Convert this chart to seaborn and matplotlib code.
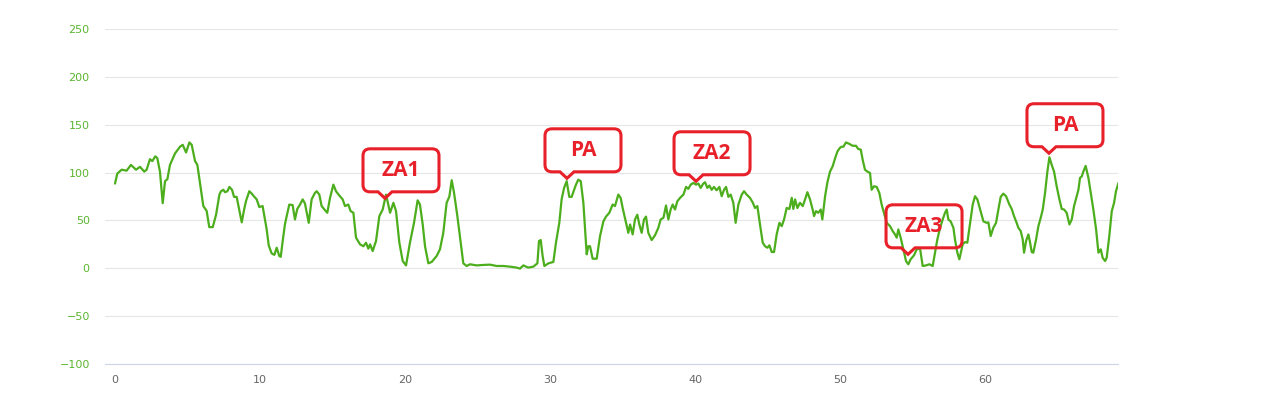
import numpy as np
import pandas as pd
import seaborn as sns
import matplotlib
matplotlib.use("Agg")
import matplotlib.pyplot as plt
import matplotlib.transforms as mtransforms
from matplotlib.path import Path
from matplotlib.patches import PathPatch

# series
x_vals = [
    0, 0.16, 0.46, 0.8, 1.1, 1.45, 1.72, 2.02, 2.18, 2.41, 2.57, 2.78, 2.92, 3.1, 3.29, 3.45, 3.61, 3.79,
    4.14, 4.48, 4.67, 4.9, 5.13, 5.29, 5.52, 5.68, 5.86, 6.09, 6.32, 6.5, 6.74, 6.97, 7.2, 7.31, 7.47,
    7.59, 7.75, 7.89, 8.07, 8.21, 8.39, 8.57, 8.74, 8.9, 9.03, 9.26, 9.43, 9.59, 9.77, 9.95, 10.18,
    10.34, 10.46, 10.6, 10.8, 10.99, 11.15, 11.33, 11.43, 11.56, 11.72, 11.84, 12.02, 12.25, 12.41,
    12.57, 12.76, 12.94, 13.1, 13.36, 13.56, 13.79, 13.91, 14.09, 14.25, 14.48, 14.64, 14.83, 15.06,
    15.24, 15.47, 15.7, 15.86, 16.09, 16.25, 16.44, 16.62, 16.9, 17.13, 17.31, 17.47, 17.59, 17.77,
    18.0, 18.23, 18.46, 18.69, 18.97, 19.2, 19.38, 19.61, 19.84, 20.07, 20.34, 20.62, 20.87, 21.03,
    21.22, 21.38, 21.49, 21.61, 21.84, 22.18, 22.41, 22.64, 22.87, 23.06, 23.22, 23.38, 23.61, 23.84,
    24.02, 24.25, 24.48, 24.94, 25.4, 25.86, 26.32, 26.78, 27.24, 27.7, 27.93, 28.16, 28.5, 28.85,
    29.13, 29.24, 29.36, 29.49, 29.61, 29.89, 30.23, 30.41, 30.64, 30.8, 30.97, 31.15, 31.33, 31.49,
    31.66, 31.79, 31.95, 32.12, 32.3, 32.53, 32.64, 32.76, 32.94, 33.22, 33.45, 33.68, 33.86, 34.09,
    34.32, 34.48, 34.71, 34.87, 35.01, 35.24, 35.4, 35.52, 35.7, 35.86, 36.02, 36.16, 36.32, 36.48,
    36.62, 36.78, 37.01, 37.24, 37.47, 37.63, 37.82, 38.0, 38.16, 38.32, 38.46, 38.62, 38.78, 38.97,
    39.2, 39.38, 39.54, 39.7, 39.89, 40.07, 40.23, 40.39, 40.57, 40.69, 40.85, 40.99, 41.15, 41.31,
    41.49, 41.68, 41.84, 42.0, 42.14, 42.3, 42.46, 42.64, 42.8, 42.99, 43.22, 43.38, 43.56, 43.79,
    43.97, 44.14, 44.3, 44.48, 44.67, 44.83, 44.99, 45.13, 45.29, 45.45, 45.63, 45.82, 45.98, 46.14,
    46.32, 46.51, 46.67, 46.78, 46.9, 47.06, 47.24, 47.43, 47.59, 47.75, 47.93, 48.11, 48.21, 48.34,
    48.5, 48.67, 48.78, 48.97, 49.13, 49.31, 49.49, 49.66, 49.82, 49.98, 50.1, 50.23, 50.41, 50.64,
    50.87, 51.1, 51.26, 51.43, 51.56, 51.72, 51.89, 52.07, 52.18, 52.34, 52.53, 52.71, 52.87, 53.03,
    53.22, 53.45, 53.63, 53.79, 53.91, 54.02, 54.18, 54.37, 54.55, 54.71, 54.87, 55.1, 55.29, 55.52,
    55.7, 55.93, 56.16, 56.39, 56.55, 56.71, 56.9, 57.08, 57.24, 57.36, 57.47, 57.63, 57.82, 57.93,
    58.09, 58.23, 58.46, 58.62, 58.78, 58.97, 59.15, 59.31, 59.47, 59.66, 59.89, 60.11, 60.23, 60.39,
    60.57, 60.76, 60.92, 61.08, 61.26, 61.45, 61.68, 61.84, 62.0, 62.18, 62.3, 62.46, 62.6, 62.69,
    62.83, 62.99, 63.1, 63.22, 63.33, 63.52, 63.68, 63.84, 63.98, 64.14, 64.3, 64.44, 64.6, 64.76,
    64.94, 65.13, 65.29, 65.45, 65.63, 65.82, 65.98, 66.14, 66.32, 66.44, 66.55, 66.67, 66.78, 66.94,
    67.13, 67.29, 67.47, 67.66, 67.82, 67.98, 68.11, 68.28, 68.39, 68.57, 68.74, 68.9, 69.03, 69.2,
]
y_vals = [
    88.5, 99, 103, 102, 108, 103, 106, 101, 103, 114, 112, 117, 115, 101, 68, 91, 93, 108,
    120, 127, 129, 121, 131.5, 129, 112, 108, 89, 65, 60, 43, 43, 56, 77, 80.5, 82,
    79.5, 80.5, 85, 82, 74.6, 74.6, 61, 48, 61, 70, 80.5, 78, 75, 72, 64, 65,
    51, 40.6, 24, 15.6, 14, 21.5, 12.8, 12, 28, 46, 54.5, 66.6, 66, 51,
    62, 66.6, 72, 67.7, 47.5, 72, 78.8, 80.5, 77, 65, 60.7, 58, 73.6, 87.4,
    80.5, 76, 72, 65, 66.6, 59.7, 58, 32, 25, 23, 26.7, 20.5, 25, 18,
    28.5, 54.5, 61.4, 77, 58, 68.4, 59.7, 26.7, 7.6, 3, 26.7, 47.5, 71, 66.6,
    45.8, 23, 14.6, 5.2, 6.6, 12.8, 19.8, 37, 68.4, 75, 92, 79, 54.5, 26.7,
    5.2, 2.4, 4.2, 3, 3.5, 3.8, 2.4, 2.4, 1.7, 0.7, -0.3, 3, 0.7, 1.7,
    5.2, 28.5, 29.5, 12.8, 2.4, 5.2, 6.6, 26.7, 47.5, 72, 84, 91, 74.6, 74.6,
    82, 87.4, 92.6, 91, 68.4, 14.6, 23, 23, 10, 10, 33.7, 49, 54, 58,
    66.6, 65, 77, 73.6, 63, 47.5, 37, 45.8, 35.4, 51, 56, 45.8, 37, 51,
    54, 37, 29.5, 34.4, 42.3, 51, 52.7, 65.6, 51, 61.4, 66.6, 61.4, 70, 73.6,
    77, 85, 83, 87.4, 89.2, 87.4, 88.5, 84, 88.5, 89.9, 84, 86.4, 82, 85,
    81.5, 85, 75.3, 82, 85, 74.6, 77, 68.4, 47.5, 66.6, 77, 80.5, 77, 73.6,
    69, 63, 65, 45.8, 26.7, 23, 21.5, 24, 17, 17, 35.4, 47.5, 44, 51,
    63, 62, 73.6, 62, 72, 63, 68.4, 65, 72, 79.5, 72, 61.4, 54.5, 59.7,
    58, 61.4, 51, 75.3, 89.9, 101, 106.5, 115, 122, 125.6, 127, 127, 131.5, 130,
    128, 128, 124.6, 124, 113.5, 103, 101, 99.6, 82, 85.7, 85, 78.8, 66.6, 58,
    47.5, 44, 38.9, 35.4, 32, 40.6, 32, 19.8, 7.6, 4.2, 9.4, 13.5, 19.8, 20.5,
    2.4, 3, 4.2, 2.4, 16.3, 30, 42.3, 51, 58, 61.4, 51, 49, 42.3, 30,
    16.3, 9.4, 25, 27.4, 26.7, 47.5, 66.6, 75.3, 72, 61.4, 49, 47.5, 48, 33.7,
    42.3, 47.5, 61.4, 74.6, 78, 75.3, 66.6, 62, 54.5, 47.5, 42.3, 38.9, 30, 16.3,
    28.5, 35.4, 27.4, 17, 16.3, 30, 44, 52.7, 61.4, 78.8, 101, 116, 108, 101,
    85.7, 72, 62, 61.4, 58, 45.8, 51, 65, 75.3, 82, 94.4, 96, 101, 107,
    94.4, 78.8, 61.4, 40.6, 16.3, 19.8, 11, 7.6, 11, 33.7, 59.7, 68.4, 80.5, 89.2,
]

# callout labels and where their tips point
label_texts = ["ZA1", "PA", "ZA2", "ZA3", "PA"]
label_x = [18.62, 31.17, 40.07, 54.69, 64.41]
label_y = [73.1, 94.0, 90.9, 14.6, 120.2]

y_ticks = [-100, -50, 0, 50, 100, 150, 200, 250]
x_ticks = [0, 10, 20, 30, 40, 50, 60]

df = pd.DataFrame({"x": x_vals, "y": y_vals})

sns.set_style("white")
plt.rcParams["font.family"] = ["DejaVu Sans"]

LINE = "#4cae1c"
RED = "#e8202a"

fig = plt.figure(figsize=(12.7, 3.94), dpi=100)
ax = fig.add_axes([105 / 1270, 30 / 394, 1013 / 1270, 335 / 394])

sns.lineplot(data=df, x="x", y="y", ax=ax, color=LINE, linewidth=1.6, zorder=3)
ax.lines[0].set_solid_joinstyle("round")

ax.set_xlim(-0.69, 69.17)
ax.set_ylim(-100, 250)
ax.set_yticks(y_ticks)
ax.set_xticks(x_ticks)
ax.set_xlabel("")
ax.set_ylabel("")
ax.grid(axis="y", color="#e6e6e6", linewidth=0.8, zorder=0)
ax.grid(axis="x", visible=False)
for s in ["top", "right", "left"]:
    ax.spines[s].set_visible(False)
ax.spines["bottom"].set_color("#ccd6eb")
ax.spines["bottom"].set_linewidth(0.8)
ax.tick_params(axis="y", length=0, pad=11, labelsize=8, labelcolor="#5cb531")
ax.tick_params(axis="x", length=0, pad=8, labelsize=8, labelcolor="#666666")

# callouts, drawn in pixel space
fig.canvas.draw()
pix = mtransforms.IdentityTransform()
r = 7
for txt, lx, ly in zip(label_texts, label_x, label_y):
    tx, ty = ax.transData.transform((lx, ly))
    left, right = tx - 22, tx + 54
    bottom = ty + 6.5
    top = bottom + 43
    verts = [
        (left + r, bottom), (tx - 7, bottom), (tx, ty), (tx + 7, bottom),
        (right - r, bottom), (right, bottom), (right, bottom + r),
        (right, top - r), (right, top), (right - r, top),
        (left + r, top), (left, top), (left, top - r),
        (left, bottom + r), (left, bottom), (left + r, bottom),
        (left + r, bottom),
    ]
    codes = [
        Path.MOVETO, Path.LINETO, Path.LINETO, Path.LINETO,
        Path.LINETO, Path.CURVE3, Path.CURVE3,
        Path.LINETO, Path.CURVE3, Path.CURVE3,
        Path.LINETO, Path.CURVE3, Path.CURVE3,
        Path.LINETO, Path.CURVE3, Path.CURVE3,
        Path.CLOSEPOLY,
    ]
    patch = PathPatch(Path(verts, codes), transform=pix, facecolor="none",
                      edgecolor=RED, linewidth=2.2, zorder=5, clip_on=False)
    fig.add_artist(patch)
    fig.text((left + right) / 2, (bottom + top) / 2, txt, transform=pix,
             ha="center", va="center", color=RED, fontsize=15,
             fontweight="bold", family=["Open Sans", "DejaVu Sans"], zorder=6)

fig.savefig("out.png", dpi=100)
